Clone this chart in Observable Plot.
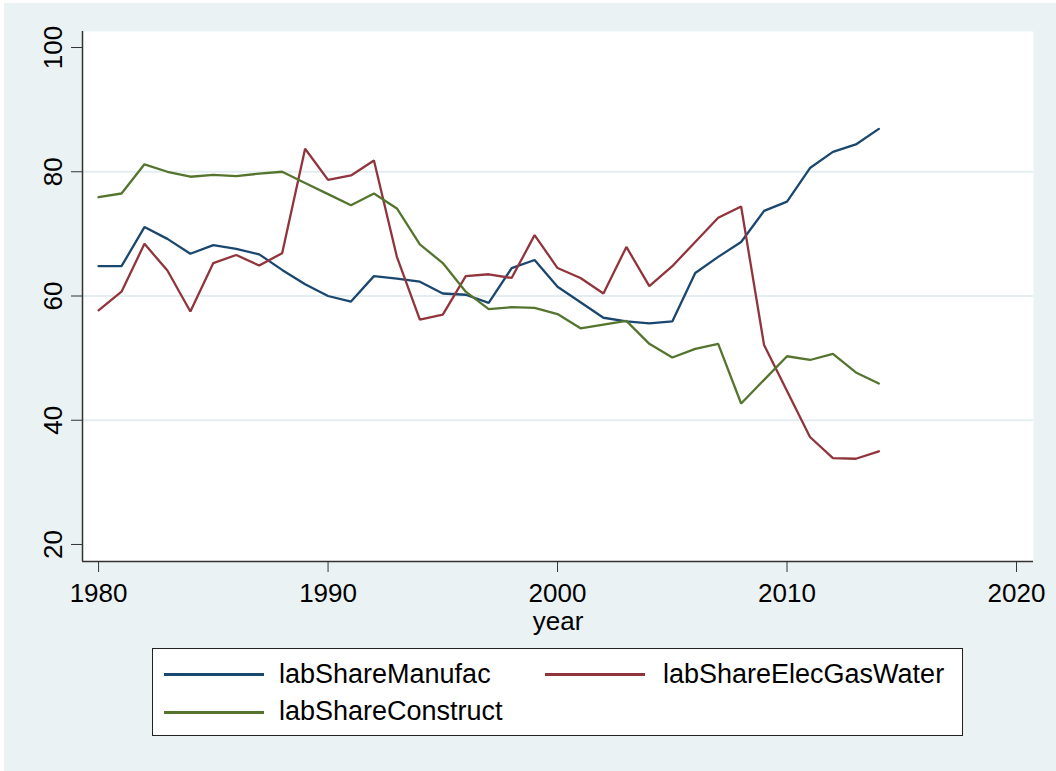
<!DOCTYPE html>
<html>
<head>
<meta charset="utf-8">
<script src="https://cdn.jsdelivr.net/npm/d3@7"></script>
<script src="https://cdn.jsdelivr.net/npm/@observablehq/plot@0.6"></script>
<style>
  html, body { margin: 0; padding: 0; background: #ffffff; }
  body { width: 1056px; height: 771px; position: relative; overflow: hidden; font-family: "Liberation Sans", Arial, sans-serif; }
  #bg { position: absolute; left: 4px; top: 3px; width: 1052px; height: 768px; background: #EAF2F3; }
  #chart { position: absolute; left: 0; top: 0; }
  #legend { position: absolute; left: 148px; top: 645px; width: 809px; height: 86px; background: #fff; border: 1.5px solid #222; }
  .sw { position: absolute; width: 100px; height: 3px; }
  .lt { position: absolute; font-size: 27px; line-height: 27px; color: #000; white-space: nowrap; }
</style>
</head>
<body>
<div id="bg">
  <div id="chart"></div>
  <div id="legend"></div>
</div>
<script>
const years = [1980,1981,1982,1983,1984,1985,1986,1987,1988,1989,
               1990,1991,1992,1993,1994,1995,1996,1997,1998,1999,
               2000,2001,2002,2003,2004,2005,2006,2007,2008,2009,
               2010,2011,2012,2013,2014];
const labShareManufac = [64.8,64.8,71.1,69.2,66.8,68.2,67.6,66.7,64.2,61.9,
                         60.0,59.1,63.2,62.8,62.3,60.4,60.2,58.9,64.5,65.8,
                         61.5,59.0,56.5,55.9,55.6,55.9,63.7,66.3,68.7,73.7,
                         75.2,80.6,83.2,84.4,86.9];
const labShareElecGasWater = [57.7,60.7,68.4,64.1,57.5,65.3,66.6,64.9,66.9,83.7,
                              78.7,79.4,81.8,66.3,56.2,57.0,63.2,63.5,62.9,69.8,
                              64.5,62.9,60.4,67.9,61.6,64.8,68.7,72.6,74.4,52.1,
                              44.7,37.3,33.9,33.8,35.0];
const labShareConstruct = [75.9,76.5,81.2,80.0,79.2,79.5,79.3,79.7,80.0,78.2,
                           76.4,74.6,76.5,74.1,68.3,65.3,60.7,57.9,58.2,58.1,
                           57.1,54.8,55.4,56.0,52.3,50.1,51.5,52.3,42.7,46.5,
                           50.3,49.7,50.7,47.7,45.9];
const seriesNames = ["labShareManufac", "labShareElecGasWater", "labShareConstruct"];
const seriesColors = ["#1A476F", "#90353B", "#55752F"];
const xTicks = [1980, 1990, 2000, 2010, 2020];
const yTicks = [20, 40, 60, 80, 100];
const gridTicks = [40, 60, 80];
const xLabel = "year";

const seriesValues = [labShareManufac, labShareElecGasWater, labShareConstruct];
const rows = [];
seriesNames.forEach((name, s) => {
  years.forEach((yr, i) => rows.push({series: name, year: yr, value: seriesValues[s][i]}));
});

const xDomain = [1979.30, 2020.74];
const yDomain = [17.26, 102.58];

const plot = Plot.plot({
  width: 1052,
  height: 640,
  marginLeft: 78,
  marginRight: 23,
  marginTop: 28,
  marginBottom: 82,
  style: {background: "transparent", fontFamily: "Liberation Sans, Arial, sans-serif", fontSize: "26px", overflow: "visible"},
  x: {domain: xDomain},
  y: {domain: yDomain},
  color: {domain: seriesNames, range: seriesColors},
  marks: [
    Plot.frame({fill: "#ffffff", stroke: "none"}),
    Plot.ruleY(gridTicks, {stroke: "#E4EEF0", strokeWidth: 2.2}),
    Plot.ruleY([yDomain[0]], {stroke: "#333", strokeWidth: 1.5}),
    Plot.ruleX([xDomain[0]], {stroke: "#333", strokeWidth: 1.5}),
    Plot.axisX(xTicks, {tickSize: 11, tickPadding: 11, tickFormat: d => String(d), fontSize: 26, stroke: "#333", fill: "#000", label: null}),
    Plot.axisY(yTicks, {tickSize: 11, tickFormat: () => "", stroke: "#333", label: null}),
    Plot.text(yTicks, {frameAnchor: "left", y: d => d, text: d => String(d), rotate: -90, dx: -21, textAnchor: "middle", lineAnchor: "bottom", fontSize: 26, fill: "#000"}),
    Plot.text([xLabel], {frameAnchor: "bottom", text: d => d, dy: 68, lineAnchor: "bottom", fontSize: 26, fill: "#000"}),
    Plot.line(rows, {x: "year", y: "value", z: "series", stroke: "series", strokeWidth: 2.3, strokeLinejoin: "miter"})
  ]
});
document.getElementById("chart").appendChild(plot);

// legend
const legend = document.getElementById("legend");
const pos = [
  {sx: 11, sy: 24, tx: 126, ty: 12},
  {sx: 392, sy: 24, tx: 510, ty: 12},
  {sx: 11, sy: 62, tx: 126, ty: 49}
];
seriesNames.forEach((name, i) => {
  const p = pos[i];
  const sw = document.createElement("div");
  sw.className = "sw";
  sw.style.left = p.sx + "px";
  sw.style.top = p.sy + "px";
  sw.style.background = seriesColors[i];
  legend.appendChild(sw);
  const t = document.createElement("div");
  t.className = "lt";
  t.style.left = p.tx + "px";
  t.style.top = p.ty + "px";
  t.textContent = name;
  legend.appendChild(t);
});
</script>
</body>
</html>
